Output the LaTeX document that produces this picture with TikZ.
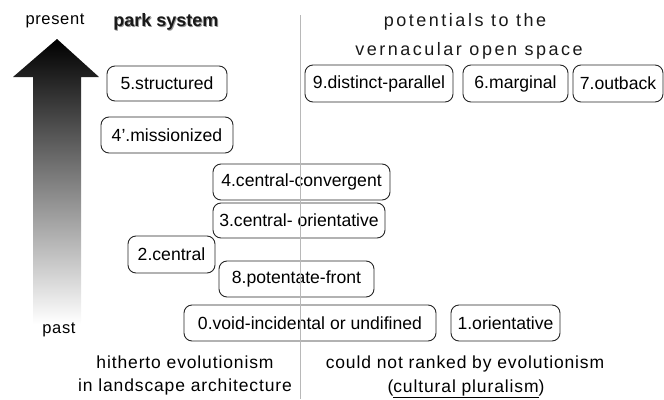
\documentclass[tikz,border=0pt]{standalone}
\usepackage{fontspec}
\setmainfont{Liberation Sans}
\newfontfamily\lsA[LetterSpace=4]{Liberation Sans}
\newfontfamily\lsB[LetterSpace=14]{Liberation Sans}
\newfontfamily\lsC[LetterSpace=5]{Liberation Sans}
\begin{document}
\begin{tikzpicture}[x=1pt,y=-1pt,
  box/.style={draw=black!85, line width=0.9pt, rounded corners=8pt, inner sep=0pt,
    font=\fontsize{17.6}{20}\selectfont, minimum height=36pt},
  timelab/.style={inner sep=0pt, font=\lsA\fontsize{16.5}{18}\selectfont},
  captext/.style={inner sep=0pt, font=\lsC\fontsize{17.5}{19}\selectfont},
  headtext/.style={inner sep=0pt, font=\lsB\fontsize{18}{20}\selectfont}]
\useasboundingbox (0,0) rectangle (664,399);
% gradient arrow
\shade[top color=black, bottom color=white]
  (57,39) -- (99,77) -- (81,77) -- (81,324) -- (33,324) -- (33,77) -- (13,77) -- cycle;
% labels
\node[timelab] (present) at (55,21) {present};
\node[timelab] (past) at (59,330) {past};
\node[inner sep=0pt, font=\bfseries\fontsize{18}{20}\selectfont, text=black!40] (parkshadow) at (166.8,22.8) {park system};
\node[inner sep=0pt, font=\bfseries\fontsize{18}{20}\selectfont, text=black!90] (park) at (166,22) {park system};
\node[headtext, text=black!90] (pot1) at (465,22) {potentials to the};
\node[headtext, text=black!90] (pot2) at (469,51) {vernacular open space};
% boxes
\node[box, minimum width=120pt, minimum height=35pt] (b5) at (167,83.5) {5.structured};
\node[box, minimum width=132pt] (b4p) at (167,135) {4'.missionized};
\node[box, minimum width=177pt] (b4) at (301.5,182) {4.central-convergent};
\node[box, minimum width=172pt, minimum height=35pt] (b3) at (299,220.5) {3.central- orientative};
\node[box, minimum width=87pt, minimum height=37pt] (b2) at (171.5,254.5) {2.central};
\node[box, minimum width=155pt] (b8) at (296.5,279) {8.potentate-front};
\node[box, minimum width=252pt] (b0) at (310,323) {0.void-incidental or undifined};
\node[box, minimum width=109pt] (b1) at (505.5,323) {1.orientative};
\node[box, minimum width=148pt, minimum height=37pt] (b9) at (379,83.5) {9.distinct-parallel};
\node[box, minimum width=105pt, minimum height=37pt] (b6) at (515.5,83.5) {6.marginal};
\node[box, minimum width=90pt, minimum height=37pt] (b7) at (618,83.5) {7.outback};
% bottom captions
\node[captext] (h1) at (185,362) {hitherto evolutionism};
\node[captext] (h2) at (185,387) {in landscape architecture};
\node[captext] (c1) at (465,364) {could not ranked by evolutionism};
\node[captext] (c2) at (466,389) {(\underline{cultural pluralism})};
% divider
\coordinate (dtop) at (300,15);
\coordinate (dbot) at (300,399);
\draw[black!28, line width=1pt] (dtop) -- (dbot);
\end{tikzpicture}
\end{document}
